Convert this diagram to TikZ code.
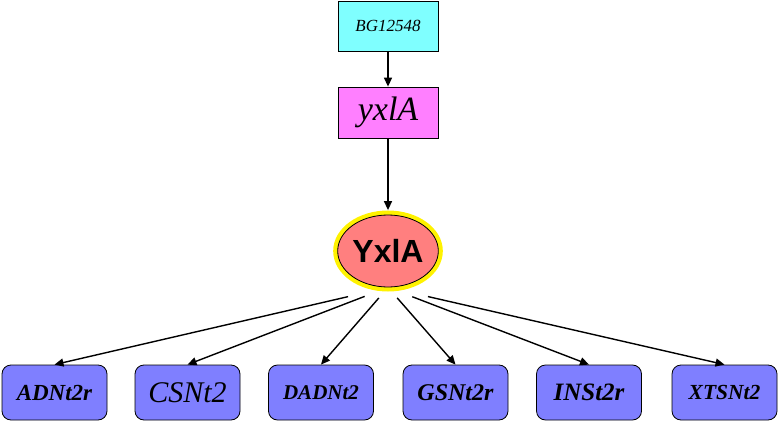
\documentclass[tikz,border=0pt]{standalone}
\usepackage{fontspec}
\setmainfont{Liberation Serif}
\newfontfamily\protfont{Liberation Sans}
\usetikzlibrary{arrows.meta,shapes.geometric}
\definecolor{GeneCyan}{HTML}{7FFFFF}
\definecolor{GeneMag}{HTML}{FF7FFF}
\definecolor{ProtRed}{HTML}{FF7F7F}
\definecolor{RxnBlue}{HTML}{7F7FFF}
\tikzset{>={Triangle[length=9pt,width=8pt]},
 genebox/.style={draw,line width=0.8pt,minimum width=100pt,minimum height=50pt,inner sep=0pt},
 prot/.style={ellipse,draw,line width=0.8pt,fill=ProtRed,minimum width=98pt,minimum height=72pt,
 inner sep=0pt,preaction={draw=yellow,line width=9pt}},
 rxnbox/.style={draw,line width=0.8pt,fill=RxnBlue,rounded corners=9pt,minimum width=105pt,
 minimum height=55pt,inner sep=0pt},
 link/.style={draw,->,line width=1.4pt}}
\newcommand{\fs}[1]{\fontsize{#1}{#1}\selectfont}

\begin{document}
\begin{tikzpicture}[x=1pt,y=-1pt]
\useasboundingbox (0,0) rectangle (778,422);
\node[genebox,fill=GeneCyan,font=\fs{17}\itshape] (bg) at (388,26) {BG12548};
\node[genebox,fill=GeneMag,minimum height=51pt,font=\fs{34}\itshape] (yx) at (388,112.5) {yxlA};
\node[prot,font=\protfont\bfseries\fs{32}] (p) at (388,251) {YxlA};
% reactions
\node[rxnbox,font=\fs{23}\bfseries\itshape] (adn) at (54.5,392.5) {ADNt2r};
\node[rxnbox,font=\fs{30}\itshape] (csn) at (187.5,392.5) {CSNt2};
\node[rxnbox,font=\fs{21}\bfseries\itshape] (dadn) at (321,392.5) {DADNt2};
\node[rxnbox,font=\fs{24}\bfseries\itshape] (gsn) at (455.5,392.5) {GSNt2r};
\node[rxnbox,font=\fs{25}\bfseries\itshape] (ins) at (589,392.5) {INSt2r};
\node[rxnbox,font=\fs{21.5}\bfseries\itshape] (xtsn) at (724.5,392.5) {XTSNt2};
\draw[link] (bg) -- (yx);
\draw[link,shorten >=4.5pt] (yx) -- (p);
\foreach \n/\s in {adn/41,csn/25,dadn/14,gsn/14,ins/26,xtsn/41}
 \draw[link,shorten <=\s pt] (p.south) -- (\n.north);
\end{tikzpicture}
\end{document}
